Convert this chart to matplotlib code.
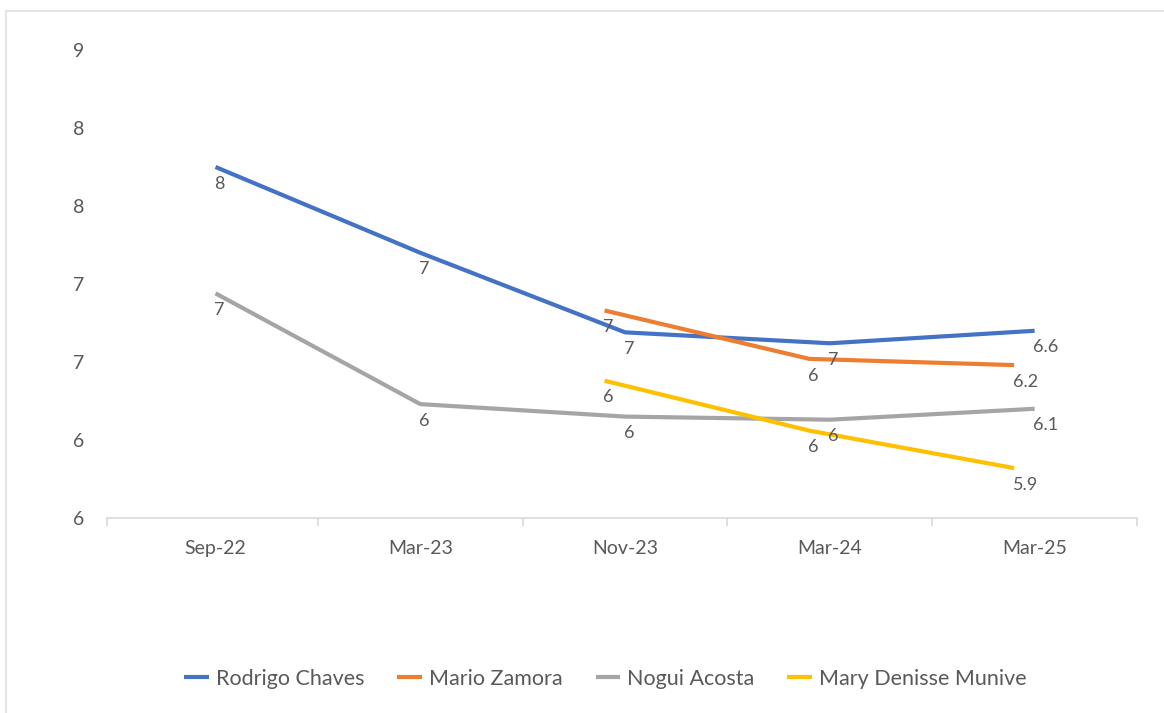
import matplotlib.pyplot as plt
from matplotlib.lines import Line2D

plt.rcParams['font.family'] = ['Lato', 'DejaVu Sans']

periods = ["Sep-22", "Mar-23", "Nov-23", "Mar-24", "Mar-25"]

chaves_idx = [0, 1, 2, 3, 4]
chaves = [7.75, 7.20, 6.69, 6.62, 6.70]
chaves_lbl = ["8", "7", "7", "7", "6.6"]

zamora_idx = [2, 3, 4]
zamora = [6.83, 6.52, 6.48]
zamora_lbl = ["7", "6", "6.2"]

acosta_idx = [0, 1, 2, 3, 4]
acosta = [6.94, 6.23, 6.15, 6.13, 6.20]
acosta_lbl = ["7", "6", "6", "6", "6.1"]

munive_idx = [2, 3, 4]
munive = [6.38, 6.06, 5.82]
munive_lbl = ["6", "6", "5.9"]

ytick_vals = [5.5, 6.0, 6.5, 7.0, 7.5, 8.0, 8.5]
ytick_lbls = ["6", "6", "7", "7", "8", "8", "9"]

txt = "#595959"

fig = plt.figure(figsize=(11.64, 7.13), dpi=100)
ax = fig.add_axes([0.0919, 0.2735, 0.8849, 0.6564])

series = [
    ("Rodrigo Chaves", chaves_idx, chaves, chaves_lbl, "#4472C4", 0.0),
    ("Mario Zamora", zamora_idx, zamora, zamora_lbl, "#ED7D31", -0.1),
    ("Nogui Acosta", acosta_idx, acosta, acosta_lbl, "#A5A5A5", 0.0),
    ("Mary Denisse Munive", munive_idx, munive, munive_lbl, "#FFC000", -0.1),
]

for name, idx, vals, lbls, col, shift in series:
    xs = [i + shift for i in idx]
    ax.plot(xs, vals, color=col, lw=3, label=name, solid_capstyle="butt")
    for x, v, s in zip(xs, vals, lbls):
        ax.annotate(s, (x, v), xytext=(-1, -12), textcoords="offset points",
                    ha="left", va="center", fontsize=13, color=txt)

ax.set_xlim(-0.53, 4.5)
ax.set_ylim(5.5, 8.5)
ax.set_xticks(range(len(periods)))
ax.set_xticklabels(periods)
ax.set_xticks([-0.53] + [i + 0.5 for i in range(len(periods))], minor=True)
ax.tick_params(axis="x", which="major", length=0, pad=16, labelsize=14, colors=txt)
ax.tick_params(axis="x", which="minor", length=6, color="#D9D9D9", width=1.2)
ax.set_yticks(ytick_vals)
ax.set_yticklabels(ytick_lbls)
ax.tick_params(axis="y", length=0, pad=16, labelsize=14, colors=txt)

for s in ["top", "right", "left"]:
    ax.spines[s].set_visible(False)
ax.spines["bottom"].set_color("#D9D9D9")
ax.spines["bottom"].set_linewidth(1.2)

fig.legend(loc="center", bbox_to_anchor=(0.52, 0.048), ncol=4, frameon=False,
           fontsize=15.5, labelcolor=txt, handlelength=1.15, handletextpad=0.3,
           columnspacing=1.55)

# faint chart border (top and left edges visible in the screenshot)
fig.add_artist(Line2D([6 / 1164, 1], [1 - 11 / 713, 1 - 11 / 713],
                      transform=fig.transFigure, color="#E6E6E6", lw=1.5))
fig.add_artist(Line2D([6 / 1164, 6 / 1164], [0, 1 - 11 / 713],
                      transform=fig.transFigure, color="#E6E6E6", lw=1.5))

fig.savefig("out.png", dpi=100)
